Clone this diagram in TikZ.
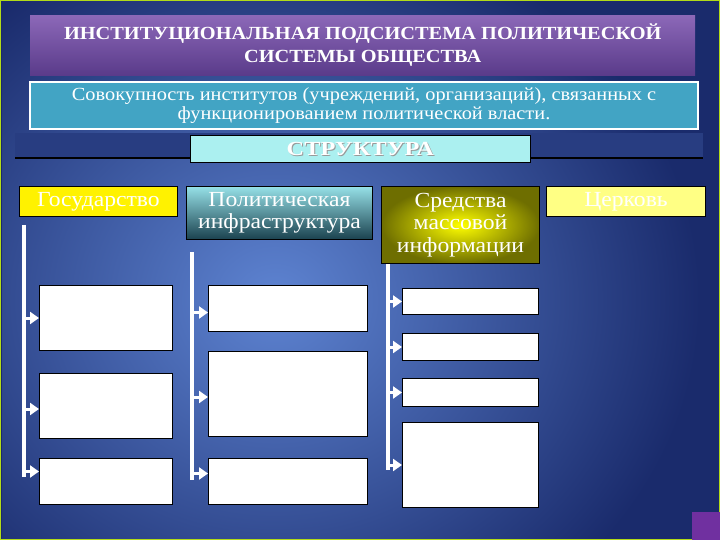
\documentclass[tikz,border=0pt]{standalone}
\usepackage{fontspec}
\setmainfont{Liberation Serif}
\newfontfamily\widefont{Liberation Serif}[FakeStretch=1.1]
\newfontfamily\widerfont{Liberation Serif}[FakeStretch=1.22]
\usetikzlibrary{arrows.meta}
\definecolor{navy}{HTML}{1A2B6C}
\definecolor{skyblue}{HTML}{5E84D2}
\definecolor{lilac}{HTML}{8C68B8}
\definecolor{plum}{HTML}{5A3B8A}
\definecolor{teal}{HTML}{42A4C4}
\definecolor{ice}{HTML}{ABF0F0}
\definecolor{olive}{HTML}{6E6E00}
\definecolor{lemon}{HTML}{FFFF84}
\definecolor{violet}{HTML}{7030A0}

\begin{document}
\begin{tikzpicture}[x=1pt,y=-1pt,
   head/.style={draw=black,line width=1pt,anchor=north west,inner sep=0pt,
     text=white,align=center,font=\widefont\fontsize{21.5}{22.5}\selectfont},
   cell/.style={draw=black,line width=1pt,fill=white,anchor=north west,inner sep=0pt},
   rail/.style={white,line width=3.5pt},
   arr/.style={white,line width=3pt,-{Triangle[width=12pt,length=9pt]}}]
   \useasboundingbox (0,0) rectangle (720,540);
   \fill[navy] (0,0) rectangle (720,540);
   \begin{scope}
   \clip (2,2) rectangle (718,538);
   \shade[inner color=skyblue,outer color=navy] (-150,-80) rectangle (700,680);
   \end{scope}
   \draw[yellow!70!green,line width=1pt] (0.5,0.5) rectangle (719.5,539.5);

   \node[anchor=north west,inner sep=0pt,minimum width=665pt,minimum height=60pt,
     top color=lilac,bottom color=plum,text=white,align=center,
     font=\widefont\fontsize{18.5}{23}\selectfont\bfseries] (title) at (30,15)
     {ИНСТИТУЦИОНАЛЬНАЯ ПОДСИСТЕМА ПОЛИТИЧЕСКОЙ\\СИСТЕМЫ ОБЩЕСТВА};
   \node[anchor=north west,inner sep=0pt,minimum width=668pt,minimum height=47pt,
     fill=teal,draw=white,line width=2pt,text=white,align=center,
     font=\widefont\fontsize{18.5}{19}\selectfont] (def) at (29,81)
     {Совокупность институтов (учреждений, организаций), связанных с\\функционированием политической власти.};

   \fill[navy!80!skyblue] (15,133) rectangle (703,158);
   \draw[black,line width=1.5pt] (15,158) -- (703,158);
   \node[anchor=north west,inner sep=0pt,minimum width=340pt,minimum height=27pt,
     fill=ice,draw=black,line width=0.8pt] (struct) at (190,135) {};
   \node[text=gray!80,font=\widerfont\fontsize{20}{20}\selectfont\bfseries] at ([xshift=1pt,yshift=-1pt]struct.center) {СТРУКТУРА};
   \node[text=white,font=\widerfont\fontsize{20}{20}\selectfont\bfseries] at (struct.center) {СТРУКТУРА};

   \node[head,fill=yellow,minimum width=158pt,minimum height=30pt] (gos) at (19,186) {Государство};
   \node[head,top color=ice!80!teal,bottom color=teal!40!black,minimum width=186pt,minimum height=53pt] (pol) at (186,186) {Политическая\\инфраструктура};
   \node[head,inner color=yellow,outer color=olive,minimum width=158pt,minimum height=77pt] (smi) at (381,186) {Средства\\массовой\\информации};
   \node[head,fill=lemon,minimum width=159pt,minimum height=30pt] (cer) at (546,186) {Церковь};

   \node[cell,minimum width=133pt,minimum height=65pt] (g1) at (39,285) {};
   \node[cell,minimum width=133pt,minimum height=65pt] (g2) at (39,373) {};
   \node[cell,minimum width=133pt,minimum height=46pt] (g3) at (39,458) {};

   \node[cell,minimum width=159pt,minimum height=46pt] (p1) at (208,285) {};
   \node[cell,minimum width=159pt,minimum height=85pt] (p2) at (208,351) {};
   \node[cell,minimum width=159pt,minimum height=46pt] (p3) at (208,458) {};

   \node[cell,minimum width=136pt,minimum height=26pt] (m1) at (402,288) {};
   \node[cell,minimum width=136pt,minimum height=27pt] (m2) at (402,333) {};
   \node[cell,minimum width=136pt,minimum height=28pt] (m3) at (402,378) {};
   \node[cell,minimum width=136pt,minimum height=85pt] (m4) at (402,422) {};

   \coordinate (r1) at (24,225);
   \coordinate (r2) at (192,252);
   \coordinate (r3) at (388,264);
   \draw[rail] (r1) -- (r1 |- 0,477);
   \draw[rail] (r2) -- (r2 |- 0,480);
   \draw[rail] (r3) -- (r3 |- 0,470);

   \draw[arr] (r1 |- g1.west) -- (g1.west);
   \draw[arr] ([yshift=-3pt]r1 |- g2.west) -- ([yshift=-3pt]g2.west);
   \draw[arr] ([yshift=10pt]r1 |- g3.west) -- ([yshift=10pt]g3.west);

   \draw[arr] ([yshift=-4pt]r2 |- p1.west) -- ([yshift=-4pt]p1.west);
   \draw[arr] ([yshift=-3pt]r2 |- p2.west) -- ([yshift=-3pt]p2.west);
   \draw[arr] ([yshift=8pt]r2 |- p3.west) -- ([yshift=8pt]p3.west);

   \draw[arr] (r3 |- m1.west) -- (m1.west);
   \draw[arr] (r3 |- m2.west) -- (m2.west);
   \draw[arr] (r3 |- m3.west) -- (m3.west);
   \draw[arr] (r3 |- m4.west) -- (m4.west);

   \fill[violet] (692,512) rectangle (720,540);
\end{tikzpicture}
\end{document}
